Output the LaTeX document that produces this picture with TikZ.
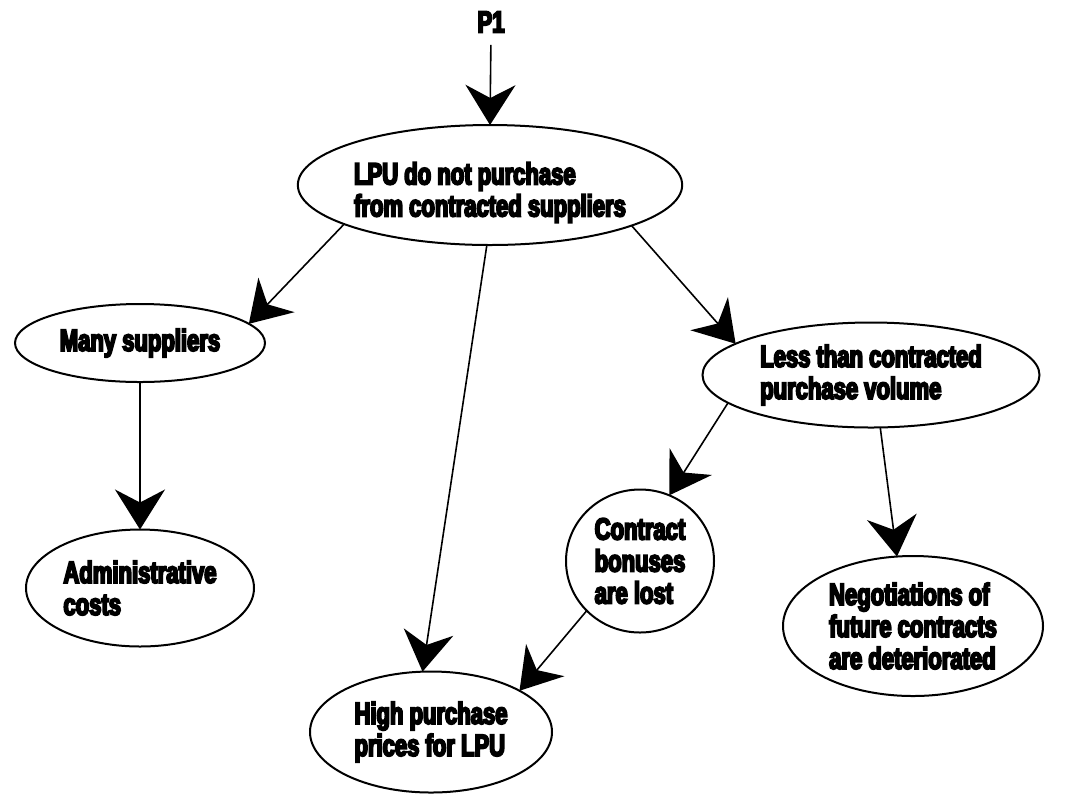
\documentclass[tikz,border=0pt]{standalone}
\usepackage{fontspec}
\usetikzlibrary{arrows.meta,shapes.geometric}
\newfontfamily\lblfont{Liberation Sans}[FakeStretch=0.72, FakeBold=6]
\newcommand\lbltext{\lblfont\bfseries\fontsize{15.3pt}{16pt}\selectfont}
% lines set as a block that is moved by (#1,#2) without changing its box
\newsavebox\txtbox
\newcommand\placed[3]{%
  \sbox\txtbox{\begin{tabular}{@{}l@{}}#3\end{tabular}}%
  \hspace*{#1}\raisebox{#2}[\ht\txtbox][\dp\txtbox]{\usebox\txtbox}\hspace*{-#1}}
\begin{document}
\begin{tikzpicture}[x=0.5pt,y=-0.5pt,
  bubble/.style={ellipse, draw, line width=1pt, inner sep=0pt, outer sep=0pt,
                 align=left, font=\lbltext},
  link/.style={line width=0.8pt, -{Stealth[length=20pt,width=25pt,inset=6.5pt]}}]
  % canvas
  \fill[white] (0,0) rectangle (1081,794);
  \useasboundingbox (0,0) rectangle (1081,794);

  % problem label
  \node[font=\lbltext, inner sep=0pt] (p1) at (491,22) {P1};

  % effect bubbles
  \node[bubble, minimum width=180pt, minimum height=60pt] (e1) at (490,185)
    {\placed{0pt}{-4.5pt}{LPU do not purchase\\from contracted suppliers}};
  \node[bubble, minimum width=125pt, minimum height=39pt] (ms) at (140,343)
    {Many suppliers};
  \node[bubble, minimum width=114pt, minimum height=58.5pt] (ad) at (140,588)
    {Administrative\\costs};
  \node[bubble, minimum width=168.5pt, minimum height=52.5pt] (lt) at (871,375)
    {Less than contracted\\purchase volume};
  \node[bubble, minimum width=74pt, minimum height=71.5pt] (ct) at (640,561)
    {Contract\\bonuses\\are lost};
  \node[bubble, minimum width=130pt, minimum height=70pt] (ng) at (913,626)
    {Negotiations of\\future contracts\\are deteriorated};
  \node[bubble, minimum width=121pt, minimum height=60.5pt] (hp) at (431,732)
    {High purchase\\prices for LPU};

  % cause-effect links
  \draw[link, shorten <=6pt] (p1.south) -- (e1.north);
  \draw[link] (e1.195) -- (ms.10);
  \draw[link] (e1.344) -- (lt.167);
  \draw[link] (e1.267) -- (hp.98);
  \draw[link] (ms.south) -- (ad.north);
  \draw[link] (lt.191) -- (ct.66);
  \draw[link] (lt.280) -- (ng.103);
  \draw[link] (ct.223) -- (hp.25);
\end{tikzpicture}
\end{document}
